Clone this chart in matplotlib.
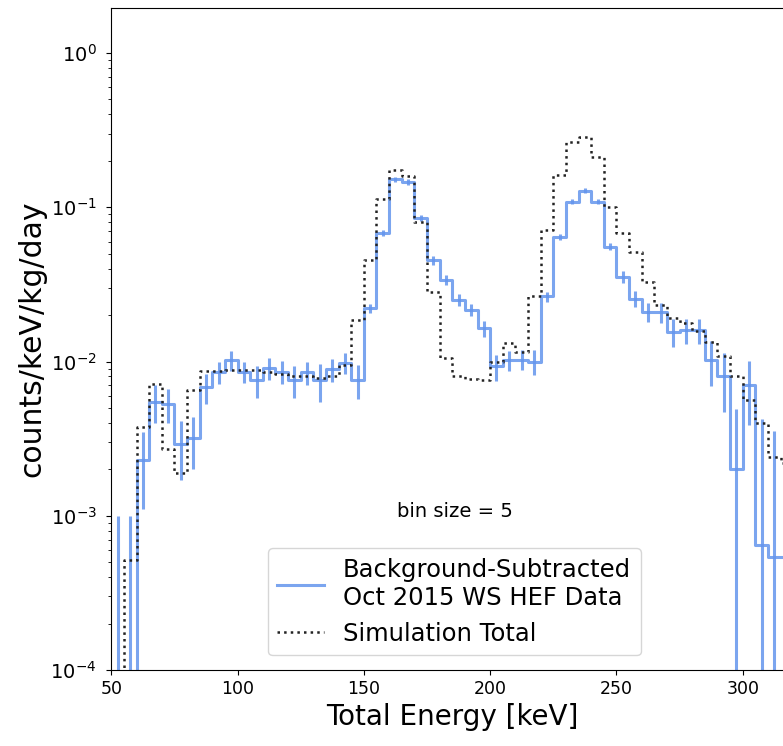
import numpy as np
import matplotlib
matplotlib.use("Agg")
import matplotlib.pyplot as plt

# bin edges, 5 keV bins
bin_lo = np.arange(50, 320, 5)
bin_width = 5

# background-subtracted data (counts/keV/kg/day) and its error, one per bin
data_vals = [0.0, 0.0, 0.0023, 0.0055, 0.0053, 0.0029, 0.0032, 0.0068, 0.0086, 0.0102,
             0.0086, 0.0076, 0.0091, 0.0086, 0.0076, 0.0085, 0.0076, 0.0089, 0.0098, 0.0076,
             0.0221, 0.068, 0.152, 0.146, 0.085, 0.0455, 0.0338, 0.0251, 0.0216, 0.0164,
             0.0093, 0.0102, 0.0103, 0.0100, 0.0264, 0.0645, 0.109, 0.128, 0.109, 0.0556,
             0.0355, 0.0255, 0.0211, 0.0208, 0.0156, 0.0160, 0.0160, 0.0102, 0.0080, 0.0020,
             0.0070, 0.00065, 0.00054, 0.00054]
data_errs = [0.0010, 0.0010, 0.0012, 0.0015, 0.0013, 0.0012, 0.0012, 0.0015, 0.0014, 0.0015,
             0.0013, 0.0018, 0.0015, 0.0015, 0.0018, 0.0015, 0.0021, 0.0015, 0.0015, 0.0019,
             0.0016, 0.003, 0.006, 0.006, 0.004, 0.003, 0.0025, 0.0022, 0.002, 0.002,
             0.0018, 0.0015, 0.0015, 0.0018, 0.002, 0.003, 0.004, 0.005, 0.004, 0.003,
             0.003, 0.003, 0.003, 0.003, 0.0032, 0.003, 0.003, 0.0033, 0.0033, 0.0029,
             0.0031, 0.0036, 0.0030, 0.0030]

# simulation total
sim_vals = [0.0, 0.00052, 0.00375, 0.0072, 0.0027, 0.0019, 0.0065, 0.0087, 0.0087, 0.0088,
            0.0088, 0.0088, 0.0086, 0.0083, 0.0080, 0.0080, 0.0078, 0.0080, 0.0095, 0.0186,
            0.0455, 0.113, 0.174, 0.159, 0.0806, 0.0284, 0.0105, 0.0080, 0.0077, 0.0076,
            0.0100, 0.0131, 0.0116, 0.0266, 0.0713, 0.162, 0.266, 0.287, 0.213, 0.101,
            0.068, 0.0515, 0.033, 0.0232, 0.0191, 0.0178, 0.0157, 0.0134, 0.0108, 0.0080,
            0.0056, 0.0040, 0.0024, 0.0022]

BLUE = "cornflowerblue"

edges = np.append(bin_lo, bin_lo[-1] + bin_width)
centers = bin_lo + bin_width / 2

fig = plt.figure(figsize=(7.83, 7.46), dpi=100)
ax = fig.add_axes([0.1421, 0.1019, 0.871, 0.8874])
ax.set_yscale("log")

ax.step(edges, np.append(data_vals, data_vals[-1]), where="post", color=BLUE, lw=2.2,
        alpha=0.85, label="Background-Subtracted\nOct 2015 WS HEF Data")
ax.errorbar(centers, data_vals, yerr=data_errs, fmt="none", ecolor=BLUE, elinewidth=2.2,
            alpha=0.85)
ax.step(edges, np.append(sim_vals, sim_vals[-1]), where="post", color="#222222", lw=1.8,
        ls=":", label="Simulation Total")

ax.text(186, 1.07e-3, "bin size = 5", ha="center", va="center", fontsize=14)

ax.set_xlim(50, 320)
ax.set_ylim(1e-4, 1.96)
ax.set_xticks([50, 100, 150, 200, 250, 300])
ax.tick_params(axis="x", labelsize=12.5)
ax.tick_params(axis="y", labelsize=14, pad=7)
ax.set_xlabel("Total Energy [keV]", fontsize=20)
ax.set_ylabel("counts/keV/kg/day", fontsize=21.5, labelpad=3)
ax.spines["right"].set_visible(False)

ax.legend(loc="lower center", bbox_to_anchor=(0.503, 0.022), borderaxespad=0,
          fontsize=17.5, handlelength=1.9)

fig.savefig("out.png", dpi=100)
